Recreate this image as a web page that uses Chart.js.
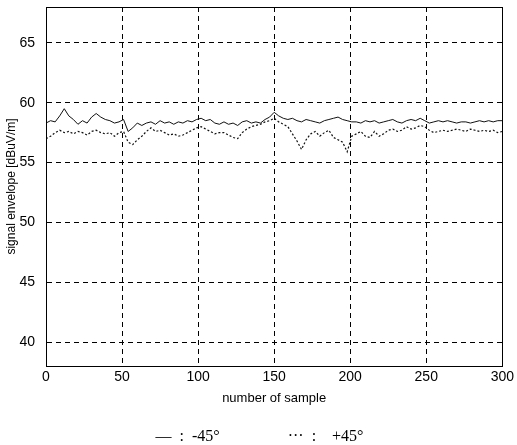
<!DOCTYPE html>
<html>
<head>
<meta charset="utf-8">
<script src="https://cdn.jsdelivr.net/npm/chart.js@4/dist/chart.umd.min.js"></script>
<style>
html,body{margin:0;padding:0;background:#fff;}
#wrap{width:517px;height:445px;}
</style>
</head>
<body>
<div id="wrap"><canvas id="c" width="517" height="445"></canvas></div>
<script>
// sample index (every 3rd sample)
const samples = [0,3,6,9,12,15,18,21,24,27,30,33,36,39,42,45,48,51,54,57,60,63,66,69,72,75,78,81,84,87,90,93,96,99,102,105,108,111,114,117,120,123,126,129,132,135,138,141,144,147,150,153,156,159,162,165,168,171,174,177,180,183,186,189,192,195,198,201,204,207,210,213,216,219,222,225,228,231,234,237,240,243,246,249,252,255,258,261,264,267,270,273,276,279,282,285,288,291,294,297,300];
// -45° (solid)
const minus45 = [58.3,58.5,58.4,58.9,59.5,58.9,58.6,58.2,58.5,58.3,58.8,59.1,58.8,58.6,58.5,58.3,58.4,58.6,57.6,57.9,58.3,58.1,58.3,58.4,58.2,58.5,58.3,58.4,58.2,58.4,58.3,58.5,58.4,58.6,58.7,58.5,58.6,58.3,58.2,58.4,58.2,58.3,58.1,58.4,58.5,58.3,58.4,58.3,58.6,58.8,59.2,58.9,58.7,58.6,58.7,58.5,58.4,58.6,58.5,58.4,58.3,58.5,58.6,58.7,58.8,58.6,58.5,58.4,58.4,58.3,58.5,58.4,58.5,58.3,58.4,58.5,58.6,58.4,58.3,58.5,58.6,58.5,58.7,58.5,58.3,58.4,58.5,58.4,58.5,58.4,58.3,58.4,58.4,58.3,58.4,58.5,58.4,58.5,58.4,58.5,58.5];
// +45° (dotted)
const plus45 = [57.0,57.2,57.5,57.7,57.5,57.6,57.4,57.6,57.5,57.3,57.6,57.7,57.5,57.4,57.5,57.2,57.5,57.6,56.7,56.5,56.9,57.2,57.6,57.9,57.6,57.7,57.5,57.3,57.4,57.2,57.3,57.5,57.7,57.9,58.0,57.8,57.6,57.4,57.5,57.5,57.3,57.1,57.0,57.5,57.8,58.0,58.1,58.2,58.4,58.5,58.7,58.4,58.2,58.0,57.4,56.8,56.1,56.9,57.4,57.6,57.2,57.5,57.7,57.1,56.9,56.7,55.9,57.2,57.4,57.6,57.2,57.1,57.6,57.2,57.4,57.7,57.8,57.6,57.7,58.0,57.8,57.9,58.1,58.0,57.7,57.5,57.6,57.7,57.6,57.7,57.8,57.7,57.6,57.8,57.7,57.6,57.7,57.6,57.7,57.5,57.6];
const xTicks = [0,50,100,150,200,250,300];
const yTicks = [40,45,50,55,60,65];
const seriesNames = ['-45°','+45°'];
const legendTexts = ['—  :  -45°','···  :    +45°        '];

const toPts = (xs, ys) => xs.map((x,i)=>({x:x,y:ys[i]}));

const frame = {
  id:'frame',
  afterDraw(chart){
    const a = chart.chartArea, ctx = chart.ctx;
    ctx.save();
    ctx.strokeStyle = '#000';
    ctx.lineWidth = 1;
    ctx.setLineDash([]);
    ctx.strokeRect(Math.round(a.left)+0.5, Math.round(a.top)+0.5, Math.round(a.right-a.left), Math.round(a.bottom-a.top));
    ctx.restore();
  }
};

new Chart(document.getElementById('c'), {
  type:'line',
  data:{
    datasets:[
      {label:seriesNames[0], data:toPts(samples,minus45), borderColor:'#111', borderWidth:1, pointRadius:0, tension:0, fill:false},
      {label:seriesNames[1], data:toPts(samples,plus45), borderColor:'#111', borderWidth:1.2, borderDash:[2,2], pointRadius:0, tension:0, fill:false}
    ]
  },
  options:{
    responsive:false,
    animation:false,
    layout:{padding:{top:6,right:11,left:0,bottom:-10}},
    plugins:{
      legend:{
        position:'bottom',
        labels:{
          font:{family:'"Liberation Serif", "DejaVu Serif", serif', size:16},
          color:'#000',
          boxWidth:37, boxHeight:0, padding:23,
          generateLabels:(chart)=>legendTexts.map((t,i)=>({text:t, fillStyle:'rgba(0,0,0,0)', strokeStyle:'rgba(0,0,0,0)', lineWidth:0, datasetIndex:i, hidden:false}))
        }
      },
      tooltip:{enabled:false}
    },
    scales:{
      x:{
        type:'linear', min:0, max:300,
        afterBuildTicks:s=>{s.ticks = xTicks.map(v=>({value:v}));},
        afterFit:s=>{s.height = 40;},
        ticks:{color:'#000', padding:3, maxRotation:0, font:{family:'"Liberation Sans", Arial, sans-serif', size:14}},
        grid:{color:'#000', lineWidth:1, drawTicks:false},
        border:{color:'#000', width:1, dash:[5,4]},
        title:{display:true, text:'number of sample', color:'#000', padding:{top:2,bottom:0}, font:{family:'"Liberation Sans", Arial, sans-serif', size:13}}
      },
      y:{
        type:'linear', min:38, max:68,
        afterBuildTicks:s=>{s.ticks = yTicks.map(v=>({value:v}));},
        afterFit:s=>{s.width = 46;},
        ticks:{color:'#000', padding:0, font:{family:'"Liberation Sans", Arial, sans-serif', size:14, lineHeight:1}},
        grid:{color:'#000', lineWidth:1, drawTicks:true, tickLength:11, tickColor:'rgba(0,0,0,0)'},
        border:{color:'#000', width:1, dash:[5,4]},
        title:{display:true, text:'signal envelope [dBuV/m]', color:'#000', padding:{top:4,bottom:0}, font:{family:'"Liberation Sans", Arial, sans-serif', size:12}}
      }
    }
  },
  plugins:[frame]
});
</script>
</body>
</html>
